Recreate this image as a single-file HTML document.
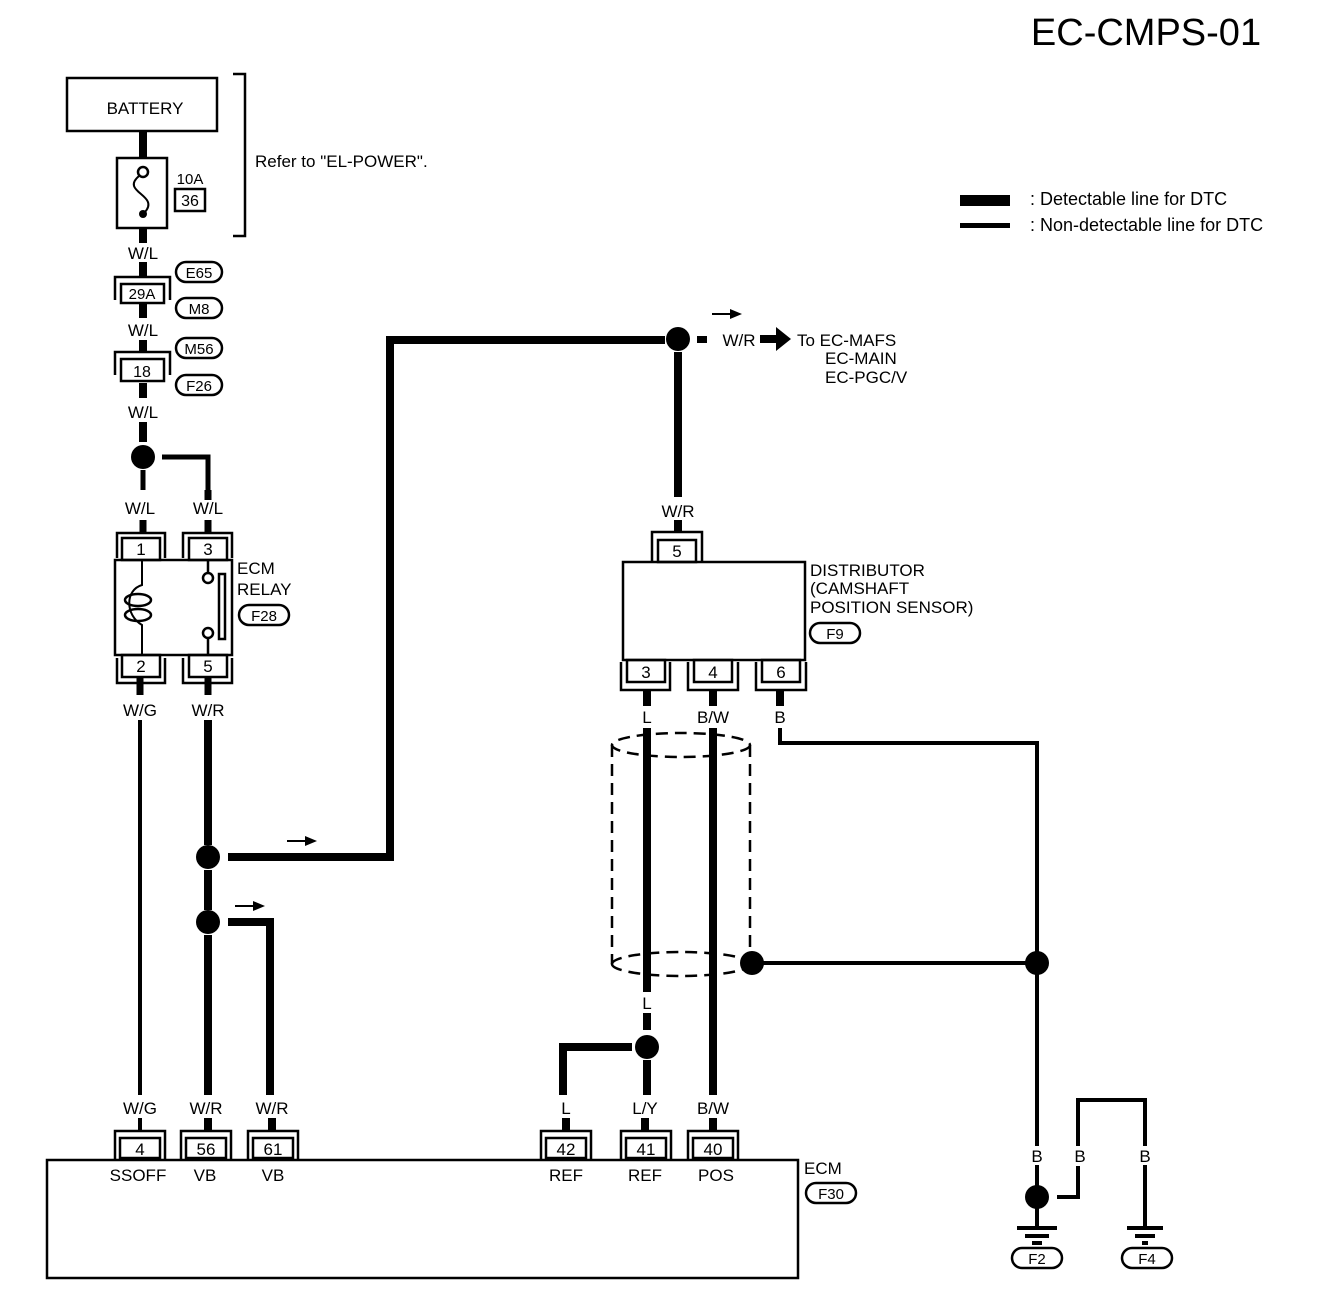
<!DOCTYPE html>
<html><head><meta charset="utf-8"><style>
html,body{margin:0;padding:0;background:#fff}
svg{display:block}
text{font-family:"Liberation Sans",sans-serif;fill:#000}
</style></head><body>
<svg width="1328" height="1316" viewBox="0 0 1328 1316" xmlns="http://www.w3.org/2000/svg">
<g font-size="17" text-anchor="middle">
<text x="1146" y="45" font-size="38" text-anchor="middle">EC-CMPS-01</text>
<!-- legend -->
<rect x="960" y="195" width="50" height="11" fill="#000"/>
<rect x="960" y="223" width="50" height="5" fill="#000"/>
<text x="1030" y="205" text-anchor="start" font-size="18">: Detectable line for DTC</text>
<text x="1030" y="231" text-anchor="start" font-size="18">: Non-detectable line for DTC</text>

<g fill="none" stroke="#000" stroke-width="2.5">
<rect x="67" y="78" width="150" height="53"/>
<path d="M233 74H245V236H233"/>
<rect x="117" y="158" width="50" height="70"/>
<rect x="175" y="189" width="30" height="22"/>
<circle cx="143" cy="172" r="5"/>
<path d="M139 176C120 192 160 195 145 212" stroke-width="2"/>
<path d="M115 300V277H170V300"/><rect x="121" y="284" width="43" height="19"/>
<path d="M115 375V352H170V375"/><rect x="121" y="359" width="43" height="22"/>
<rect x="176" y="262" width="46" height="20" rx="10"/><rect x="176" y="298" width="46" height="20" rx="10"/>
<rect x="176" y="338" width="46" height="20" rx="10"/><rect x="176" y="375" width="46" height="20" rx="10"/>
<rect x="115" y="560" width="117" height="95"/>
<path d="M117 558V533H165V558M183 558V533H232V558"/>
<rect x="122" y="538" width="38" height="22"/><rect x="189" y="538" width="38" height="22"/>
<rect x="122" y="655" width="38" height="22"/><rect x="189" y="655" width="38" height="22"/>
<path d="M117 658V683H165V658M183 658V683H232V658"/>
<path d="M142 560V585C125 590 125 615 142 625V655" stroke-width="2"/>
<ellipse cx="138" cy="600" rx="13" ry="6"/><ellipse cx="138" cy="615" rx="13" ry="6"/>
<circle cx="208" cy="578" r="5"/><circle cx="208" cy="633" r="5"/>
<path d="M208 560V573M208 638V655"/>
<rect x="219" y="574" width="6" height="65"/>
<rect x="239" y="605" width="50" height="20" rx="10"/>
<rect x="623" y="562" width="182" height="98"/>
<path d="M652 562V532H702V562"/><rect x="658" y="540" width="38" height="22"/>
<rect x="627" y="660" width="38" height="22"/><rect x="694" y="660" width="38" height="22"/><rect x="762" y="660" width="38" height="22"/>
<path d="M621 662V690H670V662M688 662V690H738V662M756 662V690H806V662"/>
<rect x="810" y="623" width="50" height="20" rx="10"/>
<g stroke-dasharray="12 7" stroke-width="2.5">
<ellipse cx="681" cy="745" rx="69" ry="12"/>
<path d="M612 745V964M750 745V964"/>
<path d="M612 964A69 12 0 0 0 750 964"/>
</g>
<path d="M612 964A69 12 0 0 1 750 964" stroke-dasharray="12 7"/>
<rect x="47" y="1160" width="751" height="118"/>
<rect x="120" y="1138" width="40" height="20"/><rect x="186" y="1138" width="40" height="20"/><rect x="253" y="1138" width="40" height="20"/>
<rect x="546" y="1138" width="40" height="20"/><rect x="626" y="1138" width="40" height="20"/><rect x="693" y="1138" width="40" height="20"/>
<path d="M115 1160V1131H165V1160M181 1160V1131H231V1160M248 1160V1131H298V1160M541 1160V1131H591V1160M621 1160V1131H671V1160M688 1160V1131H738V1160"/>
<rect x="806" y="1183" width="50" height="20" rx="10"/>
<rect x="1012" y="1248" width="50" height="20" rx="10"/><rect x="1122" y="1248" width="50" height="20" rx="10"/>
</g>

<g fill="none" stroke="#000" stroke-width="8">
<path d="M143 131V158M143 228V243M143 262V277M143 303V318M143 340V352M143 383V398M143 422V442"/>
<path d="M143 470V490M208 490V457H162" stroke-width="5"/>
<path d="M208 490V500M143 520V533M208 520V533" stroke-width="7"/>
<path d="M140 678V695M208 678V695" stroke-width="7"/>
<path d="M140 720V1095M140 1118V1131" stroke-width="4"/>
<path d="M208 720V845M208 870V910M208 935V1095M208 1118V1131"/>
<path d="M228 857H390V340H665"/>
<path d="M228 922H270V1095M272 1118V1131"/>
<path d="M678 352V497M678 520V532"/>
<path d="M647 690V706M713 690V706M780 690V706"/>
<path d="M647 728V992M647 1013V1030M713 728V1095M713 1118V1131"/>
<path d="M647 1060V1095M645 1118V1131"/>
<path d="M632 1047H563V1095M566 1118V1131"/>
<path d="M780 728V743H1037V1146M752 963H1037M1037 1165V1230M1145 1165V1228M1057 1197H1078V1166M1078 1146V1100H1145V1146" stroke-width="4"/>
</g>
<g stroke="#000" stroke-width="4">
<path d="M1017 1228H1057M1025 1236H1049M1032 1243H1042M1127 1228H1163M1135 1236H1155M1142 1243H1148"/>
</g>
<g fill="#000">
<circle cx="143" cy="457" r="12"/>
<circle cx="208" cy="857" r="12"/><circle cx="208" cy="922" r="12"/>
<circle cx="678" cy="339" r="12"/>
<circle cx="647" cy="1047" r="12"/>
<circle cx="752" cy="963" r="12"/><circle cx="1037" cy="963" r="12"/>
<circle cx="1037" cy="1197" r="12"/>
<circle cx="143" cy="214" r="4"/>
<path d="M697 336h10v7h-10z"/>
<path d="M760 335h16v-8l15 12-15 12v-8h-16z"/>
<path d="M712 313h18v-4l12 5-12 5v-4h-18z"/>
<path d="M287 840h18v-4l12 5-12 5v-4h-18z"/>
<path d="M235 905h18v-4l12 5-12 5v-4h-18z"/>
</g>

<text x="145" y="114">BATTERY</text>
<text x="255" y="167" text-anchor="start">Refer to "EL-POWER".</text>
<text x="190" y="184" font-size="15">10A</text>
<text x="190" y="206" font-size="16">36</text>
<text x="143" y="259">W/L</text>
<text x="142" y="299" font-size="15">29A</text>
<text x="199" y="278" font-size="15">E65</text><text x="199" y="314" font-size="15">M8</text>
<text x="143" y="336">W/L</text>
<text x="142" y="377" font-size="16">18</text>
<text x="199" y="354" font-size="15">M56</text><text x="199" y="391" font-size="15">F26</text>
<text x="143" y="418">W/L</text>
<text x="140" y="514">W/L</text><text x="208" y="514">W/L</text>
<text x="141" y="555">1</text><text x="208" y="555">3</text>
<text x="141" y="672">2</text><text x="208" y="672">5</text>
<text x="237" y="574" text-anchor="start">ECM</text>
<text x="237" y="595" text-anchor="start">RELAY</text>
<text x="264" y="621" font-size="15">F28</text>
<text x="140" y="716">W/G</text><text x="208" y="716">W/R</text>
<text x="739" y="346">W/R</text>
<text x="797" y="346" text-anchor="start">To EC-MAFS</text>
<text x="825" y="364" text-anchor="start">EC-MAIN</text>
<text x="825" y="383" text-anchor="start">EC-PGC/V</text>
<text x="678" y="517">W/R</text>
<text x="677" y="557">5</text>
<text x="810" y="576" text-anchor="start">DISTRIBUTOR</text>
<text x="810" y="594" text-anchor="start">(CAMSHAFT</text>
<text x="810" y="613" text-anchor="start">POSITION SENSOR)</text>
<text x="835" y="639" font-size="15">F9</text>
<text x="646" y="678">3</text><text x="713" y="678">4</text><text x="781" y="678">6</text>
<text x="647" y="723">L</text><text x="713" y="723">B/W</text><text x="780" y="723">B</text>
<text x="647" y="1009">L</text>
<text x="140" y="1114">W/G</text><text x="206" y="1114">W/R</text><text x="272" y="1114">W/R</text>
<text x="566" y="1114">L</text><text x="645" y="1114">L/Y</text><text x="713" y="1114">B/W</text>
<text x="140" y="1155">4</text><text x="206" y="1155">56</text><text x="273" y="1155">61</text>
<text x="566" y="1155">42</text><text x="646" y="1155">41</text><text x="713" y="1155">40</text>
<text x="138" y="1181">SSOFF</text><text x="205" y="1181">VB</text><text x="273" y="1181">VB</text>
<text x="566" y="1181">REF</text><text x="645" y="1181">REF</text><text x="716" y="1181">POS</text>
<text x="804" y="1174" text-anchor="start">ECM</text>
<text x="831" y="1199" font-size="15">F30</text>
<text x="1037" y="1162">B</text><text x="1080" y="1162">B</text><text x="1145" y="1162">B</text>
<text x="1037" y="1264" font-size="15">F2</text><text x="1147" y="1264" font-size="15">F4</text>
</g>
</svg>
</body></html>
